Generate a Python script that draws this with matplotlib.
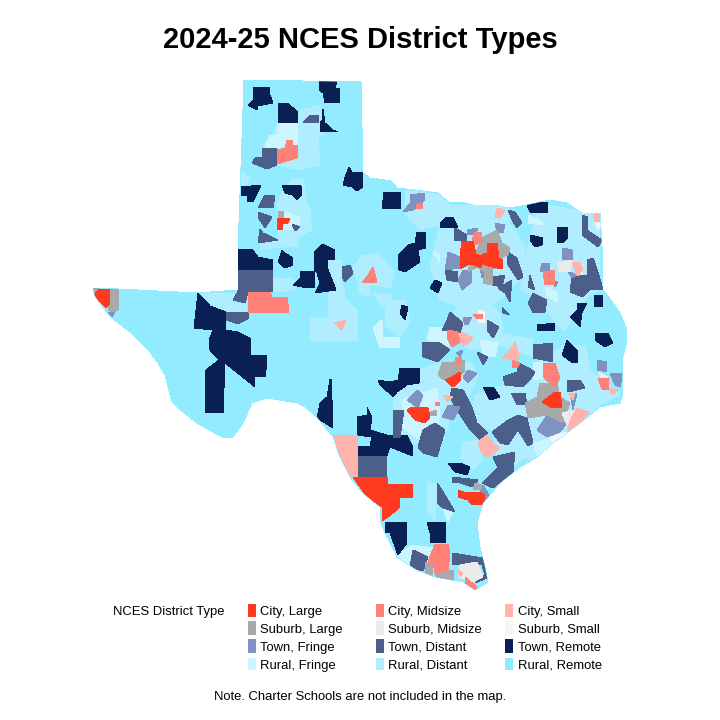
import matplotlib
matplotlib.use("Agg")
import matplotlib.pyplot as plt
from matplotlib.patches import Polygon, Rectangle

TEXAS = [(244, 80), (361, 82), (363, 173), (370, 178), (385, 180), (390, 180), (397, 188), (415, 190), (438, 193),
         (450, 203), (460, 202), (473, 205), (493, 205), (510, 208), (527, 205), (550, 200), (567, 203), (582, 213),
         (600, 213), (602, 247), (603, 290), (613, 303), (620, 313), (627, 330), (627, 340), (623, 357), (622, 377),
         (623, 393), (620, 403), (600, 407), (580, 423), (553, 443), (537, 457), (520, 467), (500, 483), (483, 503),
         (477, 523), (480, 547), (485, 567), (488, 582), (475, 590), (463, 582), (435, 577), (417, 570), (397, 557),
         (385, 533), (380, 520), (380, 507), (363, 493), (350, 477), (340, 457), (333, 437), (317, 417), (305, 407),
         (297, 403), (267, 398), (252, 403), (243, 423), (232, 438), (222, 437), (213, 432), (197, 423), (183, 412),
         (172, 402), (165, 375), (158, 363), (150, 352), (130, 332), (112, 318), (105, 310), (95, 296), (93, 288),
         (118, 289), (197, 293), (238, 290), (238, 250), (241, 167)]

RURAL_DISTANT = [
    [(272, 135), (278, 123), (298, 123), (300, 110), (320, 105), (325, 135), (318, 135), (320, 165), (300, 170), (277, 165), (263, 145)],
    [(280, 197), (293, 178), (303, 180), (307, 203), (310, 210), (312, 230), (297, 237), (298, 247), (283, 247), (260, 250), (260, 240), (277, 242), (277, 207)],
    [(241, 172), (250, 178), (245, 186), (241, 186)],
    [(202, 293), (237, 293), (233, 303), (245, 303), (247, 311), (226, 312), (213, 305)],
    [(273, 278), (293, 278), (295, 290), (273, 292)],
    [(328, 260), (342, 260), (342, 283), (345, 293), (345, 320), (328, 320)],
    [(353, 267), (363, 255), (370, 257), (370, 297), (358, 293), (358, 283)],
    [(310, 317), (328, 317), (328, 300), (347, 300), (358, 312), (358, 340), (310, 341)],
    [(385, 300), (405, 300), (410, 320), (400, 337), (385, 325)],
    [(405, 190), (440, 195), (450, 205), (510, 205), (510, 225), (525, 245), (525, 275), (500, 300), (480, 310), (455, 305), (440, 300), (430, 265), (440, 225), (420, 230), (405, 215)],
    [(550, 205), (600, 215), (600, 290), (590, 295), (580, 305), (565, 330), (555, 322), (540, 300), (520, 290), (525, 260), (535, 215)],
    [(360, 257), (377, 253), (395, 273), (390, 288), (360, 283)],
    [(373, 293), (390, 295), (393, 305), (383, 308)],
    [(460, 303), (487, 300), (500, 313), (503, 333), (533, 340), (533, 357), (500, 345), (470, 350), (445, 325)],
    [(400, 385), (420, 370), (440, 362), (470, 362), (478, 375), (470, 395), (450, 400), (448, 430), (430, 440), (418, 445), (405, 440), (393, 440), (393, 400)],
    [(505, 385), (530, 385), (533, 365), (565, 345), (585, 345), (590, 370), (620, 395), (600, 405), (560, 440), (530, 460), (515, 450), (500, 445), (490, 430), (470, 420), (475, 395)],
    [(495, 440), (520, 432), (535, 450), (515, 465), (497, 460)],
    [(463, 442), (478, 440), (482, 460), (473, 470), (460, 457)],
    [(427, 483), (437, 483), (435, 520), (428, 513)],
]
RURAL_FRINGE = [
    [(278, 123), (298, 123), (298, 145), (287, 145), (277, 148)],
    [(270, 135), (277, 135), (277, 148), (265, 148)],
    [(281, 210), (300, 218), (300, 227), (290, 230), (278, 230), (277, 220)],
    [(373, 328), (382, 320), (383, 337), (400, 337), (400, 348), (380, 348)],
    [(528, 215), (543, 222), (542, 225), (528, 223)],
    [(480, 340), (498, 343), (495, 357), (483, 355)],
    [(545, 287), (558, 293), (557, 302), (547, 297)],
    [(433, 252), (440, 255), (440, 263)],
    [(430, 327), (447, 327), (450, 347), (427, 340)],
    [(533, 362), (543, 362), (543, 378), (533, 380)],
    [(402, 400), (437, 388), (440, 413), (437, 433), (417, 438), (403, 428)],
    [(533, 443), (553, 438), (560, 442), (540, 460), (537, 455)],
    [(443, 508), (453, 512), (448, 522)],
    [(398, 553), (413, 545), (433, 548), (427, 562), (413, 550), (408, 565), (397, 555)],
]
TOWN_FRINGE = [
    [(410, 195), (425, 193), (425, 200), (413, 210), (403, 212), (410, 203)],
    [(495, 223), (505, 225), (503, 233), (497, 232)],
    [(467, 230), (478, 228), (475, 235), (467, 235)],
    [(448, 252), (460, 257), (460, 268), (445, 270)],
    [(463, 270), (472, 270), (472, 282), (462, 290), (458, 280)],
    [(480, 268), (490, 268), (488, 277), (482, 278)],
    [(563, 248), (572, 250), (573, 260), (562, 260)],
    [(542, 263), (550, 263), (550, 270), (540, 272)],
    [(567, 270), (577, 275), (572, 278)],
    [(552, 280), (558, 282), (555, 287)],
    [(463, 318), (472, 317), (468, 325), (465, 325)],
    [(456, 353), (463, 350), (460, 357)],
    [(468, 370), (477, 373), (468, 383), (463, 377)],
    [(597, 360), (607, 362), (607, 372), (597, 370)],
    [(610, 373), (623, 373), (620, 387), (615, 385)],
    [(417, 390), (423, 395), (418, 408), (407, 400)],
    [(448, 405), (460, 407), (453, 420), (442, 417)],
    [(547, 415), (555, 417), (567, 423), (560, 432), (547, 437), (537, 430)],
    [(570, 393), (577, 393), (573, 410)],
    [(483, 485), (490, 497), (483, 503), (480, 492)],
    [(108, 312), (115, 312), (112, 317)],
]
TOWN_DISTANT = [
    [(263, 148), (277, 148), (277, 165), (267, 169), (252, 163), (255, 158), (262, 157)],
    [(311, 115), (319, 115), (319, 123), (303, 122)],
    [(265, 195), (275, 195), (273, 208), (258, 208)],
    [(258, 212), (272, 217), (265, 228), (258, 217)],
    [(260, 229), (263, 233), (278, 240), (258, 243)],
    [(292, 224), (300, 227), (295, 231)],
    [(238, 270), (273, 270), (273, 292), (248, 292), (245, 303), (233, 300), (237, 293)],
    [(342, 267), (350, 265), (353, 273), (345, 282), (342, 277)],
    [(226, 312), (249, 312), (249, 318), (238, 324), (226, 320)],
    [(508, 210), (515, 212), (522, 223), (517, 228), (512, 220)],
    [(455, 228), (467, 235), (467, 240), (454, 241)],
    [(508, 252), (517, 258), (523, 277), (518, 280), (507, 263)],
    [(445, 270), (458, 272), (458, 282), (447, 280)],
    [(493, 277), (505, 275), (502, 287), (492, 285)],
    [(498, 288), (512, 280), (510, 302), (505, 293)],
    [(530, 275), (535, 290), (528, 287)],
    [(533, 293), (547, 300), (545, 312), (533, 313), (528, 303)],
    [(502, 307), (510, 315), (503, 313)],
    [(450, 312), (463, 323), (460, 333), (442, 330), (447, 320)],
    [(487, 320), (499, 327), (493, 338), (487, 330)],
    [(422, 342), (440, 343), (450, 350), (438, 362), (423, 357)],
    [(478, 352), (488, 357), (483, 365), (477, 353)],
    [(533, 345), (553, 343), (553, 362), (533, 358)],
    [(518, 363), (527, 367), (535, 372), (530, 380), (523, 387), (505, 385), (503, 377), (517, 372)],
    [(572, 277), (587, 275), (587, 260), (593, 258), (598, 272), (603, 290), (590, 290), (583, 297), (570, 292)],
    [(582, 215), (588, 217), (587, 230), (602, 240), (598, 247), (582, 235)],
    [(567, 380), (580, 380), (585, 388), (568, 392)],
    [(452, 388), (463, 390), (472, 407), (477, 423), (488, 433), (480, 440), (470, 430), (458, 412), (450, 397)],
    [(518, 415), (527, 418), (533, 443), (528, 446), (518, 430), (508, 445), (500, 443), (492, 432), (508, 420)],
    [(435, 423), (445, 430), (437, 457), (423, 453), (418, 447), (423, 430)],
    [(393, 410), (404, 410), (400, 437), (394, 438)],
    [(358, 456), (387, 456), (387, 477), (358, 477)],
    [(493, 457), (515, 452), (513, 472), (493, 488), (482, 483), (498, 468)],
    [(452, 477), (478, 480), (473, 487), (460, 483), (452, 483)],
    [(437, 483), (442, 490), (448, 500), (455, 512), (443, 508), (437, 503)],
    [(413, 550), (428, 557), (423, 571), (410, 567)],
    [(452, 553), (483, 558), (487, 578), (475, 583), (485, 575), (482, 565), (452, 565)],
    [(511, 393), (525, 393), (527, 405), (517, 405)],
]
TOWN_REMOTE = [
    [(253, 88), (270, 87), (270, 95), (273, 103), (258, 106), (257, 110), (248, 105), (253, 100)],
    [(319, 81), (337, 81), (335, 88), (340, 88), (340, 103), (325, 103), (323, 93), (319, 90)],
    [(278, 103), (287, 103), (298, 112), (298, 123), (278, 123)],
    [(323, 109), (325, 123), (333, 130), (338, 132), (328, 132), (321, 132), (320, 123), (322, 120)],
    [(349, 167), (352, 172), (363, 173), (363, 187), (357, 191), (352, 187), (343, 185), (345, 177)],
    [(241, 187), (261, 185), (253, 202), (248, 202), (247, 196), (241, 196)],
    [(282, 185), (301, 186), (302, 194), (297, 200), (292, 195), (285, 193)],
    [(282, 250), (285, 253), (293, 258), (293, 265), (285, 268), (278, 262)],
    [(238, 249), (252, 249), (258, 257), (273, 260), (273, 270), (238, 270)],
    [(314, 252), (322, 244), (335, 250), (335, 260), (328, 260), (327, 267), (336, 290), (315, 293), (320, 283), (317, 273), (314, 270)],
    [(300, 272), (315, 271), (315, 287), (307, 288), (293, 285), (300, 278)],
    [(198, 293), (202, 297), (210, 306), (226, 312), (226, 330), (238, 332), (250, 338), (251, 355), (267, 355), (267, 362),
     (265, 377), (255, 377), (255, 387), (225, 363), (223, 413), (205, 413), (206, 370), (219, 360), (210, 350), (209, 340), (213, 330), (194, 328)],
    [(330, 379), (332, 379), (332, 400), (333, 428), (317, 418), (320, 403), (327, 397)],
    [(357, 417), (367, 415), (367, 407), (372, 417), (370, 430), (380, 433), (387, 435), (407, 435), (413, 447), (413, 456),
     (390, 447), (387, 456), (358, 456), (358, 446), (370, 446), (372, 437), (357, 435)],
    [(378, 380), (390, 382), (398, 380), (400, 368), (420, 368), (419, 383), (407, 385), (397, 392), (393, 397), (388, 392), (380, 385)],
    [(385, 522), (407, 522), (407, 543), (398, 555), (390, 533), (385, 532)],
    [(427, 522), (446, 522), (446, 543), (430, 543), (430, 533)],
    [(383, 192), (401, 192), (401, 209), (382, 209), (383, 200)],
    [(447, 217), (453, 217), (458, 228), (440, 228), (440, 223)],
    [(417, 232), (425, 232), (426, 248), (418, 250), (420, 262), (405, 272), (399, 270), (398, 255), (408, 245), (415, 243)],
    [(535, 202), (548, 202), (548, 213), (530, 212), (527, 205)],
    [(530, 235), (543, 238), (542, 245), (535, 247), (530, 240)],
    [(558, 227), (568, 227), (568, 238), (562, 243), (557, 242)],
    [(435, 280), (442, 283), (438, 293), (430, 288)],
    [(402, 305), (408, 307), (405, 320), (400, 313)],
    [(537, 325), (555, 323), (555, 330), (542, 331), (537, 330)],
    [(595, 295), (603, 295), (602, 307), (594, 307)],
    [(577, 303), (587, 303), (582, 313), (580, 327), (570, 317), (577, 310)],
    [(595, 334), (608, 333), (613, 343), (605, 347), (595, 340)],
    [(567, 340), (578, 352), (578, 363), (573, 363), (562, 355)],
    [(483, 387), (493, 387), (500, 397), (490, 400)],
    [(448, 463), (460, 463), (470, 467), (467, 475), (455, 472)],
]
SUBURB_LARGE = [
    [(93, 288), (100, 288), (100, 294), (93, 294)],
    [(110, 289), (119, 289), (118, 310), (113, 312), (108, 310)],
    [(279, 211), (284, 211), (284, 218), (278, 218)],
    [(497, 230), (502, 243), (510, 248), (508, 255), (502, 257), (503, 269), (493, 268), (492, 285), (483, 283), (485, 272),
     (477, 267), (468, 272), (470, 263), (475, 255), (482, 238)],
    [(442, 363), (453, 362), (465, 360), (465, 370), (457, 380), (443, 380), (438, 375)],
    [(540, 383), (557, 383), (560, 397), (570, 403), (563, 423), (547, 415), (528, 418), (525, 403), (537, 397)],
    [(430, 412), (437, 410), (437, 416), (430, 416)],
    [(475, 483), (482, 485), (480, 490), (473, 490)],
    [(425, 562), (433, 562), (433, 575), (425, 573)],
    [(435, 572), (453, 570), (454, 579), (437, 580)],
]
SUBURB_MIDSIZE = [
    [(558, 263), (573, 260), (570, 272), (558, 272)],
    [(577, 262), (583, 265), (582, 275), (577, 272)],
    [(562, 413), (575, 410), (567, 425)],
    [(460, 565), (477, 562), (483, 577), (473, 582), (458, 577)],
    [(598, 372), (608, 377), (603, 380)],
]
SUBURB_SMALL = [
    [(550, 437), (567, 432), (555, 445)],
    [(595, 222), (601, 223), (598, 230)],
    [(478, 310), (485, 312), (485, 323), (478, 322)],
]
CITY_SMALL = [
    [(334, 435), (358, 435), (358, 477), (350, 477), (343, 463), (338, 450)],
    [(497, 208), (505, 210), (500, 218), (495, 217)],
    [(593, 214), (600, 214), (600, 222), (595, 222)],
    [(572, 262), (580, 262), (583, 270), (577, 275)],
    [(462, 332), (473, 338), (467, 345), (458, 343)],
    [(515, 342), (520, 360), (512, 360), (502, 358), (508, 353)],
    [(487, 435), (493, 443), (500, 448), (487, 458), (482, 453), (478, 442)],
    [(577, 408), (589, 412), (580, 423), (567, 432), (570, 420)],
    [(608, 388), (618, 390), (613, 395)],
    [(443, 395), (453, 397), (448, 402)],
    [(458, 570), (463, 573), (460, 577)],
    [(334, 323), (346, 320), (342, 330)],
    [(568, 393), (575, 393), (573, 400)],
]
CITY_MIDSIZE = [
    [(287, 140), (293, 140), (293, 145), (298, 145), (297, 158), (277, 164), (277, 150), (285, 148)],
    [(248, 292), (270, 292), (272, 297), (287, 297), (289, 312), (248, 313)],
    [(373, 267), (377, 282), (362, 283), (368, 275)],
    [(416, 205), (423, 203), (423, 208), (417, 209)],
    [(475, 232), (482, 232), (482, 242), (475, 245), (472, 240)],
    [(543, 272), (555, 270), (555, 285), (545, 285)],
    [(473, 314), (483, 315), (482, 319), (477, 319)],
    [(447, 330), (458, 332), (460, 342), (452, 347), (448, 340)],
    [(543, 363), (555, 363), (560, 378), (555, 387), (543, 377)],
    [(598, 378), (608, 378), (609, 390), (602, 389)],
    [(435, 544), (448, 544), (450, 553), (448, 570), (435, 573), (433, 563), (428, 562)],
    [(465, 577), (477, 587), (475, 590), (465, 583)],
    [(512, 360), (520, 363), (517, 368), (512, 367)],
    [(435, 402), (440, 403), (440, 406), (435, 405)],
    [(455, 357), (462, 358), (458, 367)],
]
CITY_LARGE = [
    [(93, 295), (100, 289), (110, 289), (110, 303), (106, 308), (100, 302)],
    [(277, 218), (290, 219), (288, 223), (283, 224), (283, 230), (278, 230)],
    [(462, 241), (473, 241), (476, 254), (482, 256), (482, 268), (470, 264), (460, 269), (460, 255)],
    [(487, 243), (497, 243), (499, 258), (503, 261), (503, 269), (492, 267), (482, 264), (483, 254), (487, 253)],
    [(452, 377), (460, 372), (461, 380), (453, 387), (445, 380)],
    [(555, 392), (560, 392), (562, 407), (552, 408), (542, 402)],
    [(412, 407), (428, 408), (430, 417), (425, 423), (415, 420), (407, 410)],
    [(353, 477), (388, 477), (388, 485), (413, 484), (413, 497), (400, 498), (399, 508), (388, 517), (382, 521), (382, 507), (367, 497)],
    [(458, 490), (467, 493), (480, 492), (485, 495), (483, 505), (472, 505), (468, 500), (458, 497)],
]

LEGEND_LABELS = ["City, Large", "City, Midsize", "City, Small",
                 "Suburb, Large", "Suburb, Midsize", "Suburb, Small",
                 "Town, Fringe", "Town, Distant", "Town, Remote",
                 "Rural, Fringe", "Rural, Distant", "Rural, Remote"]
LEGEND_COLORS = ["#FF3A1F", "#FF8077", "#FFB3AD",
                 "#A9A9A9", "#EBEBEB", "#F5F5F5",
                 "#7F92C2", "#4B5F8A", "#0A1F54",
                 "#CDF5FF", "#B0EEFF", "#92EBFF"]

plt.rcParams["font.family"] = ["Liberation Sans", "DejaVu Sans"]


def draw_group(ax, shapes, color, clip):
    for shape in shapes:
        patch = Polygon(shape, closed=True, facecolor=color, edgecolor="none", antialiased=False)
        ax.add_patch(patch)
        patch.set_clip_path(clip)


def main():
    fig = plt.figure(figsize=(7.2, 7.2), dpi=100)
    ax = fig.add_axes([0, 0, 1, 1])
    ax.set_xlim(0, 720)
    ax.set_ylim(720, 0)
    ax.axis("off")

    state = Polygon(TEXAS, closed=True, facecolor="#92EBFF", edgecolor="none", antialiased=False)
    ax.add_patch(state)

    groups = [(RURAL_DISTANT, "#B0EEFF"), (RURAL_FRINGE, "#CDF5FF"), (TOWN_REMOTE, "#0A1F54"),
              (TOWN_DISTANT, "#4B5F8A"), (TOWN_FRINGE, "#7F92C2"), (SUBURB_LARGE, "#A9A9A9"),
              (SUBURB_MIDSIZE, "#EBEBEB"), (SUBURB_SMALL, "#F5F5F5"), (CITY_SMALL, "#FFB3AD"),
              (CITY_MIDSIZE, "#FF8077"), (CITY_LARGE, "#FF3A1F")]
    for shapes, color in groups:
        draw_group(ax, shapes, color, state)

    ax.text(360, 40, "2024-25 NCES District Types", ha="center", va="center", fontsize=21, fontweight="bold")

    ax.text(113, 612.5, "NCES District Type", ha="left", va="center", fontsize=9.4)
    col_x = [248, 376, 505]
    row_y = [604, 621, 639, 658]
    heights = [13, 14, 14, 12]
    for i, (label, color) in enumerate(zip(LEGEND_LABELS, LEGEND_COLORS)):
        row, col = divmod(i, 3)
        ax.add_patch(Rectangle((col_x[col], row_y[row]), 7.5, heights[row], facecolor=color, edgecolor="none"))
        ax.text(col_x[col] + 12.5, row_y[row] + heights[row] / 2 + 1.5, label, ha="left", va="center", fontsize=9.4)

    ax.text(360, 697, "Note. Charter Schools are not included in the map.", ha="center", va="center", fontsize=9.4)

    fig.savefig("out.png", dpi=100)
    plt.close(fig)


if __name__ == "__main__":
    main()
